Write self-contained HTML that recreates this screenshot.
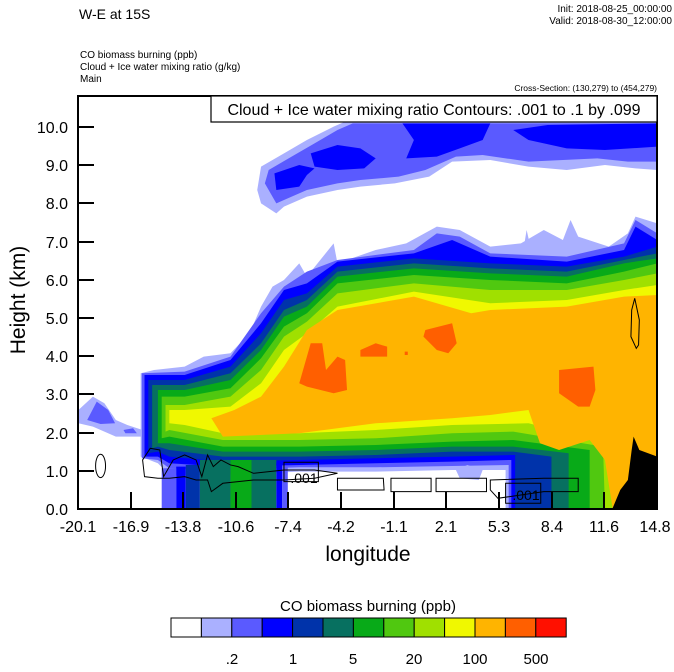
<!DOCTYPE html>
<html><head><meta charset="utf-8"><style>
body{margin:0;background:#fff;width:674px;height:667px;overflow:hidden;font-family:"Liberation Sans",sans-serif}
</style></head><body>
<svg width="674" height="667" viewBox="0 0 674 667" xmlns="http://www.w3.org/2000/svg" font-family="Liberation Sans, sans-serif">
<rect width="674" height="667" fill="#fff"/>
<text x="79" y="19" font-size="14">W-E at 15S</text>
<text x="672" y="12" font-size="10" text-anchor="end">Init: 2018-08-25_00:00:00</text>
<text x="672" y="24" font-size="10" text-anchor="end">Valid: 2018-08-30_12:00:00</text>
<text x="80" y="58" font-size="10">CO biomass burning   (ppb)</text>
<text x="80" y="70" font-size="10">Cloud + Ice water mixing ratio   (g/kg)</text>
<text x="80" y="82" font-size="10">Main</text>
<text x="657" y="91" font-size="8.5" text-anchor="end">Cross-Section: (130,279) to (454,279)</text>

<g transform="translate(70,90) scale(0.3821,0.3333)">
<!-- upper cloud -->
<path fill="#aab0ff" d="M490,300 L500,230 L560,190 L620,150 L690,110 L720,95 L1537,95 L1537,240 L1480,235 L1400,225 L1300,240 L1200,230 L1100,210 L1000,215 L940,260 L850,280 L760,290 L700,300 L620,320 L560,350 L540,370 L500,340 Z"/>
<path fill="#5a5aff" d="M510,280 L520,240 L580,200 L640,160 L700,120 L740,100 L1537,100 L1537,215 L1460,215 L1380,205 L1200,215 L1080,195 L1010,200 L930,240 L860,260 L760,270 L700,280 L620,300 L560,330 L540,340 Z"/>
<path fill="#0000ff" d="M535,250 L600,225 L640,235 L620,255 L600,290 L540,300 Z"/>
<path fill="#0000ff" d="M630,190 L700,165 L760,175 L800,205 L770,235 L700,240 L640,230 Z"/>
<path fill="#0000ff" d="M870,100 L1100,100 L1080,150 L1020,175 L960,200 L880,205 L900,150 Z"/>
<path fill="#0000ff" d="M1160,120 L1250,105 L1537,100 L1537,170 L1400,180 L1300,175 L1200,150 Z"/>
<!-- left blob -->
<path fill="#aab0ff" d="M22,960 L60,920 L90,940 L120,990 L150,1005 L190,1020 L200,1040 L120,1040 L60,1010 L22,1000 Z"/>
<path fill="#5a5aff" d="M45,990 L70,935 L100,960 L118,1000 L80,1002 Z M140,1020 L165,1015 L175,1030 L145,1030 Z"/>
<path fill="#aab0ff" d="M1188,470 L1195,420 L1205,470 L1195,485 Z"/>
<!-- plume layers -->
<path fill="#aab0ff" d="M185,1100 L185,850 L220,840 L300,830 L350,800 L420,790 L470,730 L500,650 L530,590 L560,570 L600,520 L620,560 L690,460 L700,520 L800,480 L880,460 L960,410 L1020,420 L1100,470 L1180,460 L1240,420 L1290,450 L1310,390 L1330,440 L1410,470 L1460,430 L1480,380 L1537,400 L1537,1255 L1140,1255 L1140,1140 L1000,1140 L800,1145 L600,1145 L400,1155 L260,1155 L230,1120 Z"/>
<path fill="#5a5aff" d="M188,1105 L188,850 L300,845 L420,800 L500,670 L560,590 L620,545 L700,510 L900,480 L960,430 L1020,440 L1100,490 L1300,500 L1450,460 L1480,390 L1537,430 L1537,1255 L1148,1255 L1148,1125 L1000,1128 L800,1132 L600,1132 L400,1140 L260,1135 L230,1110 Z"/>
<path fill="#0000ff" d="M195,1100 L195,855 L300,855 L420,810 L500,700 L560,600 L620,580 L700,515 L900,490 L1000,450 L1100,500 L1300,515 L1450,480 L1480,410 L1537,450 L1537,1255 L1155,1255 L1155,1110 L1000,1115 L800,1120 L600,1125 L400,1130 L260,1120 L230,1100 Z"/>
<path fill="#0033aa" d="M205,1090 L205,870 L300,870 L420,830 L500,730 L560,630 L620,610 L700,530 L900,505 L1100,520 L1300,530 L1450,500 L1537,470 L1537,1255 L1165,1255 L1165,1095 L1000,1100 L800,1105 L600,1110 L400,1115 L260,1100 L230,1085 Z"/>
<path fill="#077060" d="M215,1075 L215,885 L300,885 L420,850 L500,760 L560,660 L620,630 L700,545 L900,520 L1100,535 L1300,545 L1450,510 L1537,490 L1537,1255 L1260,1255 L1260,1100 L1160,1085 L1000,1085 L800,1095 L600,1100 L400,1100 L260,1080 L230,1070 Z"/>
<path fill="#08aa18" d="M230,1060 L230,900 L300,900 L420,870 L500,780 L560,680 L620,650 L700,560 L900,535 L1100,550 L1300,560 L1450,520 L1537,505 L1537,1255 L1305,1255 L1305,1090 L1160,1070 L1000,1070 L800,1080 L600,1085 L400,1085 L260,1060 Z"/>
<path fill="#50c810" d="M240,1045 L240,920 L300,920 L420,895 L500,805 L560,710 L620,670 L700,580 L900,555 L1100,570 L1300,580 L1450,545 L1537,520 L1537,1255 L1360,1255 L1360,1080 L1160,1050 L1000,1055 L800,1065 L600,1070 L400,1070 L260,1040 Z"/>
<path fill="#a0e000" d="M250,1025 L250,945 L300,945 L420,920 L500,840 L560,740 L620,695 L700,610 L900,580 L1100,600 L1300,600 L1450,570 L1537,550 L1537,1255 L1400,1255 L1395,1070 L1160,1025 L1000,1030 L800,1045 L600,1050 L400,1050 L260,1020 Z"/>
<path fill="#f0f800" d="M260,1000 L260,960 L300,960 L420,950 L500,880 L560,780 L620,730 L700,650 L900,605 L1100,640 L1300,630 L1450,600 L1537,585 L1537,1255 L1420,1255 L1410,1060 L1200,1000 L1000,1005 L800,1020 L600,1030 L400,1030 L300,1005 Z"/>
<path fill="#ffb400" d="M370,985 L430,960 L500,920 L560,830 L620,720 L700,660 L900,620 L1050,670 L1100,660 L1300,650 L1450,620 L1537,615 L1537,1255 L1420,1255 L1400,1110 L1360,1050 L1280,1080 L1230,1060 L1200,960 L1100,975 L1000,985 L800,1000 L600,1030 L400,1040 Z"/>
<path fill="#ff5f00" d="M930,720 L1000,700 L1012,760 L990,790 L960,780 L925,740 Z M760,780 L800,760 L830,770 L830,800 L760,800 Z M600,880 L630,760 L660,760 L670,840 L700,800 L720,810 L725,900 L690,910 L620,890 Z M1280,840 L1370,830 L1375,900 L1360,950 L1330,950 L1280,910 Z M876,785 L884,785 L884,795 L876,795 Z"/>
<!-- ground columns left -->
<rect x="240" y="1135" width="38" height="120" fill="#5a5aff"/>
<rect x="278" y="1130" width="25" height="125" fill="#0000ff"/>
<rect x="303" y="1125" width="37" height="130" fill="#0033aa"/>
<rect x="340" y="1110" width="80" height="145" fill="#077060"/>
<rect x="420" y="1110" width="55" height="145" fill="#08aa18"/>
<rect x="475" y="1110" width="65" height="145" fill="#077060"/>
<rect x="540" y="1120" width="15" height="135" fill="#0000ff"/>
<rect x="555" y="1130" width="15" height="125" fill="#5a5aff"/>
<path fill="#aab0ff" d="M1010,1140 L1040,1125 L1080,1140 L1070,1170 L1020,1165 Z"/>
<!-- terrain -->
<path fill="#000" d="M1420,1255 L1440,1200 L1460,1170 L1470,1080 L1475,1040 L1490,1080 L1537,1100 L1537,1255 Z"/>
<!-- contours -->
<g fill="none" stroke="#000" stroke-width="1" vector-effect="non-scaling-stroke">
<ellipse cx="80" cy="1128" rx="13" ry="35" vector-effect="non-scaling-stroke"/>
<path vector-effect="non-scaling-stroke" d="M195,1160 L190,1110 L210,1075 L235,1080 L245,1160 L270,1110 L300,1095 L330,1110 L345,1160 L360,1095 L375,1130 L395,1110 L420,1125 L440,1130 L460,1140 L480,1150 L560,1140 L640,1140 L700,1150 L640,1165 L560,1170 L480,1170 L440,1175 L400,1180 L370,1205 L360,1170 L330,1170 L300,1160 L260,1165 L230,1165 Z"/>
<path vector-effect="non-scaling-stroke" d="M700,1165 L820,1165 L822,1200 L700,1200 Z"/>
<path vector-effect="non-scaling-stroke" d="M840,1165 L945,1165 L945,1205 L840,1205 Z"/>
<path vector-effect="non-scaling-stroke" d="M958,1165 L1090,1165 L1090,1205 L958,1205 Z"/>
<path vector-effect="non-scaling-stroke" d="M1100,1170 L1240,1165 L1330,1165 L1330,1205 L1240,1205 L1120,1225 L1100,1200 Z"/>
<path vector-effect="non-scaling-stroke" d="M1470,660 L1478,625 L1490,690 L1488,765 L1482,775 L1468,740 Z"/>
<rect x="560" y="1117" width="90" height="58" vector-effect="non-scaling-stroke"/>
<rect x="1140" y="1180" width="92" height="60" vector-effect="non-scaling-stroke"/>
</g>
</g>
<text x="605" y="179" font-size="14" text-anchor="middle" transform="scale(0.5,1)" style="display:none">.</text>
<text x="304" y="483" font-size="14" text-anchor="middle">.001</text>
<text x="526" y="500" font-size="14" text-anchor="middle">.001</text>

<!-- frame -->
<rect x="78" y="96" width="579" height="413" fill="none" stroke="#000" stroke-width="2"/>
<rect x="211" y="96" width="446" height="26" fill="#fff" stroke="#000" stroke-width="1.2"/>
<text x="434" y="115" font-size="16" text-anchor="middle">Cloud + Ice water mixing ratio Contours: .001 to .1 by .099</text>

<g stroke="#000" stroke-width="2">
<line x1="78" y1="127" x2="94" y2="127"/><line x1="78" y1="165" x2="94" y2="165"/><line x1="78" y1="203" x2="94" y2="203"/><line x1="78" y1="242" x2="94" y2="242"/><line x1="78" y1="280" x2="94" y2="280"/><line x1="78" y1="318" x2="94" y2="318"/><line x1="78" y1="356" x2="94" y2="356"/><line x1="78" y1="394" x2="94" y2="394"/><line x1="78" y1="433" x2="94" y2="433"/><line x1="78" y1="471" x2="94" y2="471"/>
<line x1="131" y1="509" x2="131" y2="492"/><line x1="183" y1="509" x2="183" y2="492"/><line x1="236" y1="509" x2="236" y2="492"/><line x1="288" y1="509" x2="288" y2="492"/><line x1="341" y1="509" x2="341" y2="492"/><line x1="394" y1="509" x2="394" y2="492"/><line x1="446" y1="509" x2="446" y2="492"/><line x1="499" y1="509" x2="499" y2="492"/><line x1="552" y1="509" x2="552" y2="492"/><line x1="604" y1="509" x2="604" y2="492"/>
</g>
<g font-size="16" text-anchor="end">
<text x="68" y="133">10.0</text><text x="68" y="171">9.0</text><text x="68" y="209">8.0</text><text x="68" y="248">7.0</text><text x="68" y="286">6.0</text><text x="68" y="324">5.0</text><text x="68" y="362">4.0</text><text x="68" y="400">3.0</text><text x="68" y="439">2.0</text><text x="68" y="477">1.0</text><text x="68" y="515">0.0</text>
</g>
<g font-size="16" text-anchor="middle">
<text x="78" y="532">-20.1</text><text x="131" y="532">-16.9</text><text x="183" y="532">-13.8</text><text x="236" y="532">-10.6</text><text x="288" y="532">-7.4</text><text x="341" y="532">-4.2</text><text x="394" y="532">-1.1</text><text x="446" y="532">2.1</text><text x="499" y="532">5.3</text><text x="552" y="532">8.4</text><text x="604" y="532">11.6</text><text x="655" y="532">14.8</text>
</g>
<text x="368" y="561" font-size="21" text-anchor="middle">longitude</text>
<text transform="translate(25,300) rotate(-90)" font-size="21" text-anchor="middle">Height (km)</text>

<text x="368" y="611" font-size="15" text-anchor="middle">CO biomass burning  (ppb)</text>
<g stroke="#000" stroke-width="1">
<rect x="171" y="618" width="30.4" height="19" fill="#ffffff"/>
<rect x="201.4" y="618" width="30.4" height="19" fill="#aab0ff"/>
<rect x="231.8" y="618" width="30.4" height="19" fill="#5a5aff"/>
<rect x="262.2" y="618" width="30.4" height="19" fill="#0000ff"/>
<rect x="292.6" y="618" width="30.4" height="19" fill="#0033aa"/>
<rect x="323" y="618" width="30.4" height="19" fill="#077060"/>
<rect x="353.4" y="618" width="30.4" height="19" fill="#08aa18"/>
<rect x="383.8" y="618" width="30.4" height="19" fill="#50c810"/>
<rect x="414.2" y="618" width="30.4" height="19" fill="#a0e000"/>
<rect x="444.6" y="618" width="30.4" height="19" fill="#f0f800"/>
<rect x="475" y="618" width="30.4" height="19" fill="#ffb400"/>
<rect x="505.4" y="618" width="30.4" height="19" fill="#ff5f00"/>
<rect x="535.8" y="618" width="30.4" height="19" fill="#ff1000"/>
</g>
<g font-size="15" text-anchor="middle">
<text x="232" y="664">.2</text><text x="293" y="664">1</text><text x="353" y="664">5</text><text x="414" y="664">20</text><text x="475" y="664">100</text><text x="536" y="664">500</text>
</g>
</svg>
</body></html>
